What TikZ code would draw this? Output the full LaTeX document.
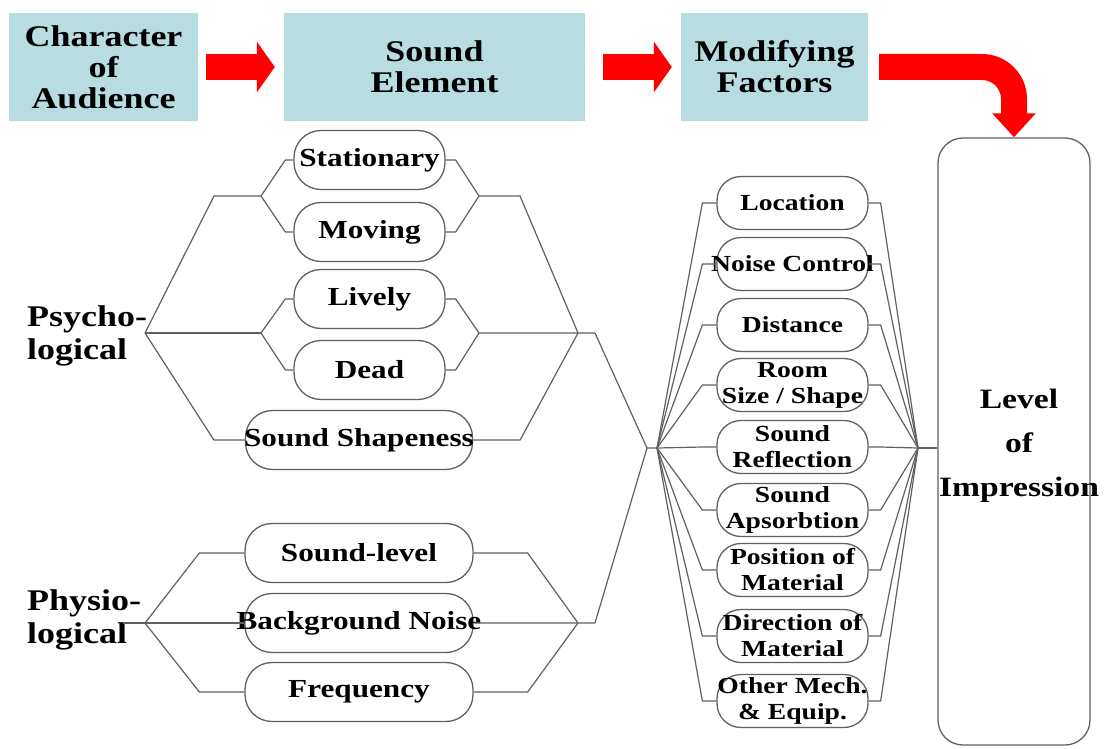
\documentclass[tikz,border=0pt]{standalone}
\usepackage{fontspec}
\setmainfont{Liberation Serif}[FakeStretch=1.2]
\usetikzlibrary{arrows.meta}
\definecolor{boxblue}{HTML}{B8DDE1}
\definecolor{wire}{HTML}{606060}

\begin{document}
\begin{tikzpicture}
  [x=1pt,y=-1pt,line join=round,
   topbox/.style={fill=boxblue,minimum width=#1,minimum height=108pt,inner sep=0pt,align=center,font=\fontsize{30}{31}\selectfont\bfseries},
   pill/.style={draw=wire,line width=1.3pt,rounded corners=27pt,minimum width=#1,minimum height=59pt,inner sep=0pt,inner xsep=-10pt,align=center,font=\fontsize{26}{28}\selectfont\bfseries},
   fpill/.style={draw=wire,line width=1.3pt,rounded corners=24pt,minimum width=151pt,minimum height=53pt,inner sep=0pt,inner xsep=-10pt,align=center,font=\fontsize{23}{26}\selectfont\bfseries},
   side/.style={anchor=west,inner sep=0pt,align=left,font=\fontsize{30}{33}\selectfont\bfseries},
   conn/.style={draw=wire,line width=1.2pt},
   redarrow/.style={draw=red,line width=26pt,-{Triangle[width=50pt,length=18pt]}}]
  \useasboundingbox (0,0) rectangle (1108,749);

  \node (chr) [topbox=189pt] at (103.5,67) {Character\\of\\Audience};
  \node (snd) [topbox=301pt] at (434.5,67) {Sound\\Element};
  \node (mod) [topbox=187pt] at (774.5,67) {Modifying\\Factors};
  \node (lev) [draw=wire,line width=1.3pt,rounded corners=25pt,minimum width=152pt,minimum height=607pt,
    label={[font=\fontsize{28}{44}\selectfont\bfseries,align=center,xshift=5pt,yshift=-4pt]center:Level\\of\\Impression}]
    at (1014,441.5) {};

  \draw[redarrow] ([xshift=8pt]chr.east) -- ([xshift=-9pt]snd.west);
  \draw[redarrow] ([xshift=18pt]snd.east) -- ([xshift=-9pt]mod.west);
  \draw[redarrow,-{Triangle[width=42pt,length=24pt]},rounded corners=32pt] ([xshift=11pt]mod.east) -| (lev.north);

  % sound elements
  \node (psy) [side] at (27,336) {Psycho-\\logical};
  \node (phy) [side] at (27,620) {Physio-\\logical};

  \node (st) [pill=151pt] at (369.5,160) {Stationary};
  \node (mv) [pill=151pt] at (369.5,232) {Moving};
  \node (lv) [pill=151pt] at (369.5,299) {Lively};
  \node (dd) [pill=151pt] at (369.5,370) {Dead};
  \node (ss) [pill=227pt] at (359,440)   {Sound Shapeness};
  \node (sl) [pill=228pt] at (359,553)   {Sound-level};
  \node (bn) [pill=228pt] at (359,623)   {Background Noise};
  \node (fq) [pill=228pt] at (359,692)   {Frequency};

  \coordinate (P)  at (145,333);
  \coordinate (Pu) at (214,196);
  \coordinate (A1) at (261,196);
  \coordinate (A2) at (261,333);
  \coordinate (B1) at (479,196);
  \coordinate (Bu) at (520,196);
  \coordinate (B2) at (479,333);
  \coordinate (C)  at (578,333);
  \coordinate (C2) at (595,333);
  \coordinate (Q0) at (123,623);
  \coordinate (Q)  at (145,623);
  \coordinate (R)  at (578,623);
  \coordinate (R2) at (595,623);
  \coordinate (M0) at (647,448);
  \coordinate (M)  at (657,448);
  \coordinate (N)  at (918,448);

  \draw[conn] (P) -- (Pu) -- (A1);
  \draw[conn] (P) -- (A2);
  \draw[conn] (P) -- ([xshift=-31pt]ss.west) -- (ss.west);
  \foreach \n/\j in {st/A1,mv/A1,lv/A2,dd/A2}
    \draw[conn] (\j) -- ([xshift=-8pt]\n.west) -- (\n.west);
  \foreach \n/\j in {st/B1,mv/B1,lv/B2,dd/B2}
    \draw[conn] (\n.east) -- ([xshift=10pt]\n.east) -- (\j);
  \draw[conn] (B1) -- (Bu) -- (C);
  \draw[conn] (ss.east) -- ([xshift=47pt]ss.east) -- (C);
  \draw[conn] (B2) -- (C2) -- (M0) -- (M);

  \draw[conn] (Q0) -- (bn.west);
  \draw[conn] (Q) -- ([xshift=-45pt]sl.west) -- (sl.west);
  \draw[conn] (Q) -- ([xshift=-45pt]fq.west) -- (fq.west);
  \draw[conn] (sl.east) -- ([xshift=54pt]sl.east) -- (R);
  \draw[conn] (fq.east) -- ([xshift=54pt]fq.east) -- (R);
  \draw[conn] (bn.east) -- (R2) -- (M0);

  % modifying factors
  \node (loc)  [fpill] at (792.5,203) {Location};
  \node (nc)   [fpill] at (792.5,264) {Noise Control};
  \node (dst)  [fpill] at (792.5,325) {Distance};
  \node (room) [fpill] at (792.5,385) {Room\\Size / Shape};
  \node (refl) [fpill] at (792.5,447) {Sound\\Reflection};
  \node (absb) [fpill] at (792.5,510) {Sound\\Apsorbtion};
  \node (pos)  [fpill] at (792.5,570) {Position of\\Material};
  \node (dir)  [fpill] at (792.5,636) {Direction of\\Material};
  \node (oth)  [fpill] at (792.5,701) {Other Mech.\\\& Equip.};

  \foreach \f in {loc,nc,dst,room,refl,absb,pos,dir,oth}
    \draw[conn] (M) -- ([xshift=-14pt]\f.west) -- (\f.west)
                (\f.east) -- ([xshift=12pt]\f.east) -- (N);
  \draw[conn] (N) -- (N -| lev.west);

\end{tikzpicture}
\end{document}
